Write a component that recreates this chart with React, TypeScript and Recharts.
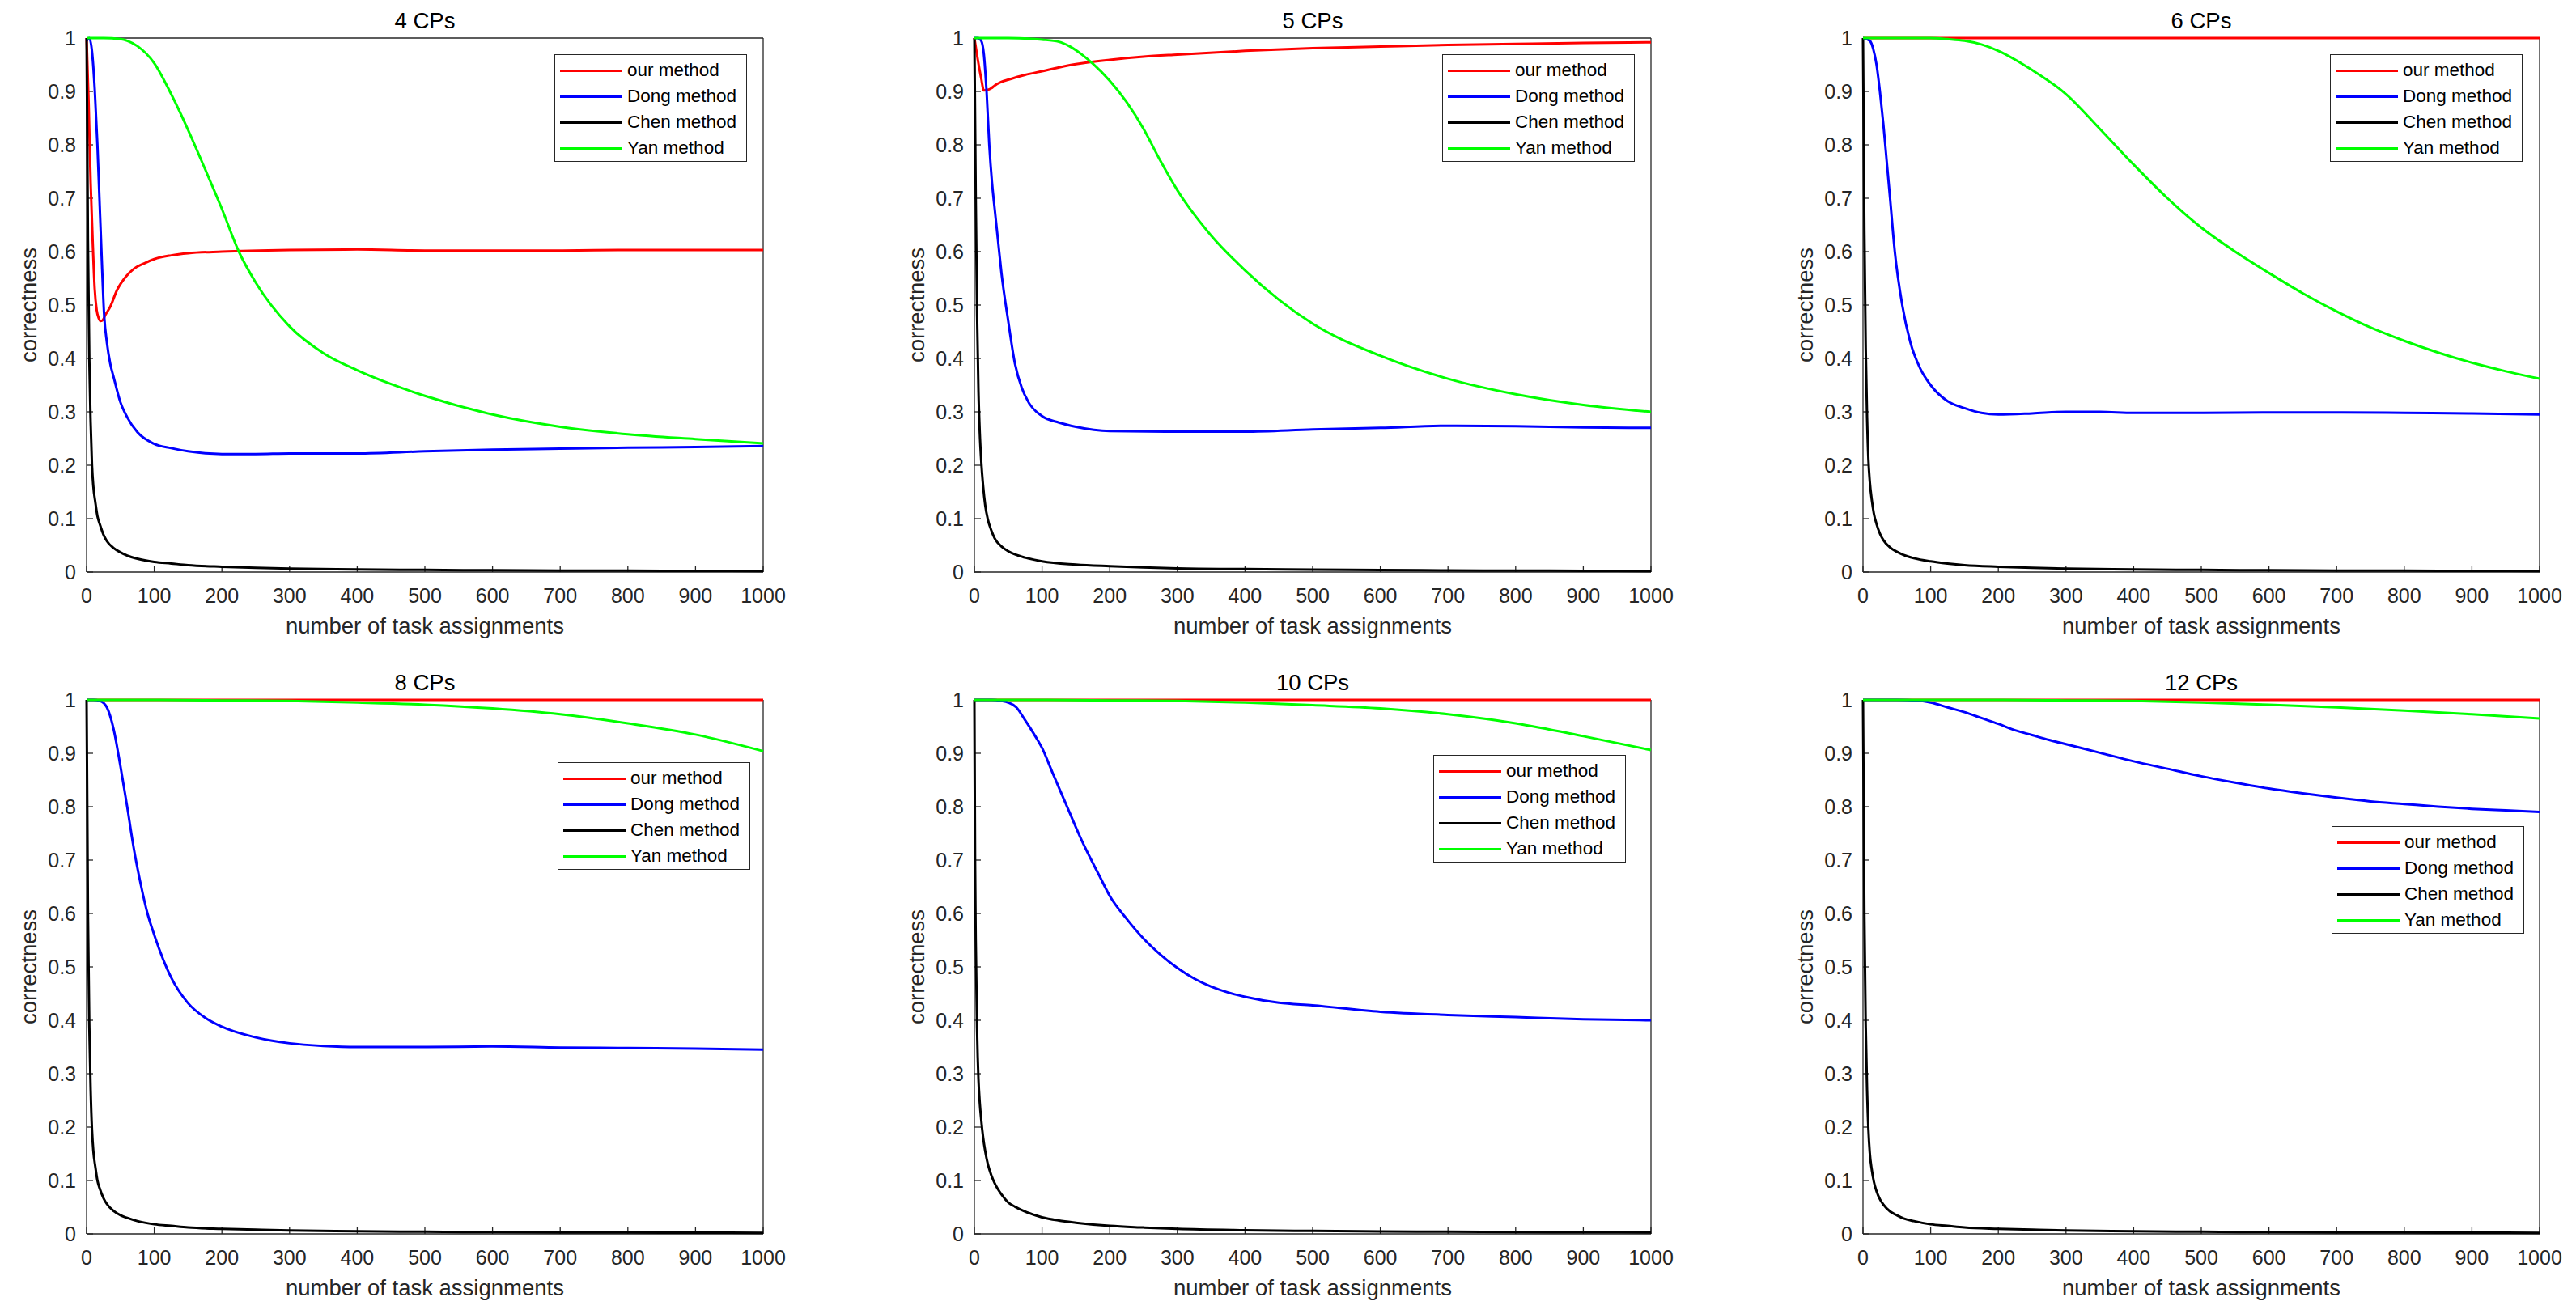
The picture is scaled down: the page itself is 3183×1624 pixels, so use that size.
import React from 'react';
import { LineChart, Line, XAxis, YAxis, Legend } from 'recharts';

type Pt = [number, number];

// axis ticks, names and colours shared by all six panels
const xTicks = [0, 100, 200, 300, 400, 500, 600, 700, 800, 900, 1000];
const yTicks = [0, 0.1, 0.2, 0.3, 0.4, 0.5, 0.6, 0.7, 0.8, 0.9, 1];
const seriesNames = ['our method', 'Dong method', 'Chen method', 'Yan method'];
const seriesColors = ['#ff0000', '#0000ff', '#000000', '#00ff00'];
const panelTitles = ['4 CPs', '5 CPs', '6 CPs', '8 CPs', '10 CPs', '12 CPs'];

// 4 CPs
const cp4Ours: Pt[] = [[0, 1], [3, 0.88], [6, 0.73], [9, 0.62], [12, 0.53], [15, 0.49], [18, 0.475], [21, 0.47], [24, 0.472], [28, 0.482], [35, 0.497], [45, 0.528], [58, 0.553], [70, 0.568], [85, 0.578], [100, 0.586], [125, 0.593], [150, 0.597], [200, 0.6], [300, 0.603], [400, 0.604], [500, 0.602], [600, 0.602], [700, 0.602], [800, 0.603], [900, 0.603], [1000, 0.603]];
const cp4Dong: Pt[] = [[0, 0.995], [4, 1], [8, 0.975], [12, 0.905], [16, 0.8], [19, 0.7], [22, 0.6], [26, 0.48], [30, 0.43], [35, 0.39], [40, 0.365], [50, 0.318], [60, 0.29], [75, 0.262], [100, 0.24], [125, 0.232], [150, 0.226], [200, 0.221], [250, 0.221], [300, 0.222], [400, 0.222], [500, 0.226], [600, 0.229], [700, 0.231], [800, 0.233], [900, 0.234], [1000, 0.236]];
const cp4Chen: Pt[] = [[0, 1], [2, 0.62], [4, 0.4], [6, 0.28], [8, 0.2], [10, 0.16], [13, 0.13], [16, 0.105], [20, 0.088], [25, 0.07], [30, 0.058], [40, 0.045], [50, 0.037], [60, 0.031], [75, 0.025], [100, 0.019], [125, 0.016], [150, 0.013], [200, 0.01], [250, 0.008], [300, 0.0065], [400, 0.005], [500, 0.004], [600, 0.0033], [700, 0.0028], [800, 0.0025], [900, 0.0022], [1000, 0.002]];
const cp4Yan: Pt[] = [[0, 1], [25, 1], [50, 0.998], [60, 0.995], [75, 0.985], [100, 0.953], [125, 0.895], [150, 0.828], [175, 0.755], [200, 0.68], [225, 0.6], [250, 0.542], [300, 0.46], [350, 0.41], [400, 0.378], [450, 0.352], [500, 0.33], [600, 0.295], [700, 0.272], [800, 0.258], [900, 0.249], [1000, 0.241]];

// 5 CPs
const cp5Ours: Pt[] = [[0, 1], [5, 0.96], [10, 0.925], [14, 0.902], [20, 0.903], [25, 0.906], [30, 0.911], [40, 0.918], [50, 0.922], [75, 0.931], [100, 0.938], [150, 0.951], [200, 0.959], [250, 0.965], [300, 0.969], [400, 0.976], [500, 0.981], [600, 0.984], [700, 0.987], [800, 0.989], [900, 0.991], [1000, 0.992]];
const cp5Dong: Pt[] = [[0, 1], [5, 1], [10, 0.995], [14, 0.97], [18, 0.9], [22, 0.8], [26, 0.73], [30, 0.68], [35, 0.62], [40, 0.56], [50, 0.47], [60, 0.39], [70, 0.345], [80, 0.318], [100, 0.292], [125, 0.28], [150, 0.272], [200, 0.264], [300, 0.263], [400, 0.263], [500, 0.267], [600, 0.27], [700, 0.274], [800, 0.273], [900, 0.271], [1000, 0.27]];
const cp5Chen: Pt[] = [[0, 1], [2, 0.7], [4, 0.48], [6, 0.34], [8, 0.26], [10, 0.21], [13, 0.16], [16, 0.125], [20, 0.098], [25, 0.078], [30, 0.063], [40, 0.048], [50, 0.039], [60, 0.033], [75, 0.027], [100, 0.02], [150, 0.014], [200, 0.011], [300, 0.007], [400, 0.0055], [500, 0.0045], [600, 0.0037], [700, 0.003], [800, 0.0027], [900, 0.0024], [1000, 0.002]];
const cp5Yan: Pt[] = [[0, 1], [50, 1], [100, 0.997], [125, 0.993], [140, 0.985], [160, 0.968], [175, 0.952], [200, 0.92], [225, 0.88], [250, 0.83], [275, 0.77], [300, 0.715], [350, 0.63], [400, 0.565], [450, 0.51], [500, 0.465], [600, 0.405], [700, 0.362], [800, 0.333], [900, 0.313], [1000, 0.3]];

// 6 CPs
const cp6Ours: Pt[] = [[0, 1], [500, 1], [1000, 1]];
const cp6Dong: Pt[] = [[0, 1], [10, 0.995], [15, 0.98], [20, 0.95], [25, 0.9], [30, 0.84], [35, 0.77], [40, 0.7], [47, 0.6], [58, 0.5], [70, 0.43], [85, 0.38], [100, 0.35], [125, 0.32], [150, 0.307], [175, 0.298], [200, 0.295], [250, 0.297], [300, 0.3], [350, 0.3], [400, 0.298], [500, 0.298], [600, 0.299], [700, 0.299], [800, 0.298], [900, 0.297], [1000, 0.295]];
const cp6Chen: Pt[] = [[0, 1], [2, 0.64], [4, 0.42], [6, 0.29], [8, 0.21], [10, 0.17], [13, 0.135], [16, 0.11], [20, 0.09], [25, 0.072], [30, 0.06], [40, 0.046], [50, 0.038], [60, 0.032], [75, 0.026], [100, 0.02], [125, 0.016], [150, 0.013], [200, 0.01], [250, 0.008], [300, 0.0065], [400, 0.005], [500, 0.004], [600, 0.0033], [700, 0.0028], [800, 0.0025], [900, 0.0022], [1000, 0.002]];
const cp6Yan: Pt[] = [[0, 1], [100, 1], [125, 0.998], [150, 0.995], [175, 0.988], [200, 0.976], [250, 0.94], [300, 0.895], [350, 0.83], [400, 0.763], [450, 0.7], [500, 0.645], [550, 0.6], [600, 0.56], [650, 0.522], [700, 0.488], [750, 0.458], [800, 0.433], [850, 0.411], [900, 0.392], [950, 0.376], [1000, 0.362]];

// 8 CPs
const cp8Ours: Pt[] = [[0, 1], [500, 1], [1000, 1]];
const cp8Dong: Pt[] = [[0, 1], [10, 1], [20, 0.998], [30, 0.986], [40, 0.945], [50, 0.876], [60, 0.8], [70, 0.72], [80, 0.655], [90, 0.6], [100, 0.56], [125, 0.48], [150, 0.432], [175, 0.405], [200, 0.388], [250, 0.368], [300, 0.357], [350, 0.352], [400, 0.35], [500, 0.35], [600, 0.351], [700, 0.349], [800, 0.348], [900, 0.347], [1000, 0.345]];
const cp8Chen: Pt[] = [[0, 1], [2, 0.6], [4, 0.39], [6, 0.27], [8, 0.195], [10, 0.155], [13, 0.125], [16, 0.1], [20, 0.083], [25, 0.067], [30, 0.056], [40, 0.043], [50, 0.035], [60, 0.03], [75, 0.024], [100, 0.018], [125, 0.015], [150, 0.012], [200, 0.0095], [250, 0.0078], [300, 0.0064], [400, 0.005], [500, 0.004], [600, 0.0033], [700, 0.0028], [800, 0.0025], [900, 0.0022], [1000, 0.002]];
const cp8Yan: Pt[] = [[0, 1], [100, 1], [200, 0.999], [300, 0.998], [400, 0.995], [500, 0.991], [600, 0.984], [700, 0.973], [800, 0.956], [900, 0.935], [1000, 0.904]];

// 10 CPs
const cp10Ours: Pt[] = [[0, 1], [500, 1], [1000, 1]];
const cp10Dong: Pt[] = [[0, 1], [25, 1], [40, 0.998], [50, 0.995], [62, 0.986], [75, 0.962], [90, 0.932], [100, 0.91], [115, 0.865], [135, 0.806], [160, 0.733], [185, 0.67], [200, 0.633], [225, 0.59], [250, 0.553], [275, 0.523], [300, 0.498], [325, 0.478], [350, 0.463], [375, 0.452], [400, 0.444], [450, 0.433], [500, 0.428], [600, 0.416], [700, 0.41], [800, 0.406], [900, 0.402], [1000, 0.4]];
const cp10Chen: Pt[] = [[0, 1], [1, 0.7], [2, 0.55], [4, 0.38], [6, 0.29], [8, 0.245], [10, 0.215], [13, 0.18], [16, 0.155], [20, 0.13], [25, 0.11], [30, 0.095], [40, 0.074], [50, 0.059], [60, 0.051], [75, 0.042], [100, 0.031], [125, 0.025], [150, 0.021], [200, 0.015], [250, 0.012], [300, 0.0095], [400, 0.007], [500, 0.0055], [600, 0.0045], [700, 0.004], [800, 0.0035], [900, 0.003], [1000, 0.0028]];
const cp10Yan: Pt[] = [[0, 1], [100, 1], [200, 0.999], [300, 0.998], [400, 0.995], [500, 0.99], [600, 0.984], [700, 0.973], [800, 0.956], [900, 0.932], [1000, 0.906]];

// 12 CPs
const cp12Ours: Pt[] = [[0, 1], [500, 1], [1000, 1]];
const cp12Dong: Pt[] = [[0, 1], [50, 1], [80, 0.999], [100, 0.995], [125, 0.986], [150, 0.977], [175, 0.966], [200, 0.955], [225, 0.943], [250, 0.934], [275, 0.925], [300, 0.917], [350, 0.901], [400, 0.885], [450, 0.871], [500, 0.857], [550, 0.845], [600, 0.834], [650, 0.825], [700, 0.817], [750, 0.81], [800, 0.805], [850, 0.8], [900, 0.796], [950, 0.793], [1000, 0.79]];
const cp12Chen: Pt[] = [[0, 1], [2, 0.6], [4, 0.39], [6, 0.27], [8, 0.195], [10, 0.152], [13, 0.12], [16, 0.098], [20, 0.08], [25, 0.065], [30, 0.055], [40, 0.042], [50, 0.035], [60, 0.029], [75, 0.024], [100, 0.018], [125, 0.015], [150, 0.012], [200, 0.0095], [250, 0.0078], [300, 0.0064], [400, 0.005], [500, 0.004], [600, 0.0033], [700, 0.0028], [800, 0.0025], [900, 0.0022], [1000, 0.002]];
const cp12Yan: Pt[] = [[0, 1], [100, 1], [200, 1], [300, 0.999], [400, 0.998], [500, 0.995], [600, 0.991], [700, 0.986], [800, 0.98], [900, 0.973], [1000, 0.965]];

const panelSeries: Pt[][][] = [
  [cp4Ours, cp4Dong, cp4Chen, cp4Yan],
  [cp5Ours, cp5Dong, cp5Chen, cp5Yan],
  [cp6Ours, cp6Dong, cp6Chen, cp6Yan],
  [cp8Ours, cp8Dong, cp8Chen, cp8Yan],
  [cp10Ours, cp10Dong, cp10Chen, cp10Yan],
  [cp12Ours, cp12Dong, cp12Chen, cp12Yan],
];

// layout: where each panel sits on the page and where its legend box goes
const panelLeft = [0, 1097, 2195, 0, 1097, 2195];
const panelTop = [0, 0, 0, 818, 818, 818];
const legendPos = [[685, 67], [685, 67], [684, 67], [689, 124], [674, 115], [686, 203]];

const CHART_W = 983;
const CHART_H = 806;
const AXIS = '#262626';
const FONT = '"Liberation Sans", Arial, Helvetica, sans-serif';

const toPoints = (pts: Pt[]) => pts.map(([x, y]) => ({ x, y }));

const LegendBox = () => (
  <div
    style={{
      boxSizing: 'border-box',
      width: 238,
      height: 133,
      border: `1.3px solid ${AXIS}`,
      background: '#fff',
      paddingTop: 3,
      fontFamily: FONT,
    }}
  >
    {seriesNames.map((name, i) => (
      <div key={name} style={{ height: 32, display: 'flex', alignItems: 'center' }}>
        <span style={{ display: 'block', marginLeft: 6, width: 77, height: 3, background: seriesColors[i] }} />
        <span style={{ marginLeft: 6, fontSize: 22.5, color: '#000', lineHeight: '32px', whiteSpace: 'nowrap' }}>{name}</span>
      </div>
    ))}
  </div>
);

const Panel: React.FC<{ index: number }> = ({ index }) => {
  const [lx, ly] = legendPos[index];
  return (
    <div style={{ position: 'absolute', left: panelLeft[index], top: panelTop[index] }}>
      <LineChart width={CHART_W} height={CHART_H} margin={{ top: 46, right: 39, bottom: 0, left: 0 }}>
        <XAxis
          type="number"
          dataKey="x"
          domain={[0, 1000]}
          ticks={xTicks}
          interval={0}
          height={99}
          tickSize={-8}
          tickMargin={28}
          stroke={AXIS}
          strokeWidth={1.3}
          tick={{ fill: AXIS, fontSize: 25 }}
          label={{ value: 'number of task assignments', position: 'insideBottom', offset: 23, fill: AXIS, fontSize: 27.5 }}
        />
        <XAxis
          xAxisId="top"
          orientation="top"
          type="number"
          dataKey="x"
          domain={[0, 1000]}
          allowDataOverflow
          ticks={xTicks}
          interval={0}
          height={1}
          tickSize={-8}
          tick={false}
          stroke={AXIS}
          strokeWidth={1.3}
          label={{ value: panelTitles[index], position: 'top', offset: 11, fill: '#000', fontSize: 27.5 }}
        />
        <YAxis
          type="number"
          domain={[0, 1]}
          ticks={yTicks}
          interval={0}
          width={107}
          tickSize={-8}
          tickMargin={21}
          stroke={AXIS}
          strokeWidth={1.3}
          tick={{ fill: AXIS, fontSize: 25 }}
          label={{
            value: 'correctness',
            angle: -90,
            position: 'insideLeft',
            offset: 35,
            fill: AXIS,
            fontSize: 27.5,
            style: { textAnchor: 'middle' },
          }}
        />
        <YAxis
          yAxisId="right"
          orientation="right"
          type="number"
          domain={[0, 1]}
          allowDataOverflow
          ticks={yTicks}
          interval={0}
          width={1}
          tickSize={-8}
          tick={false}
          stroke={AXIS}
          strokeWidth={1.3}
        />
        <Legend
          layout="vertical"
          align="center"
          verticalAlign="middle"
          wrapperStyle={{ left: lx, top: ly, width: 238, height: 133 }}
          content={() => <LegendBox />}
        />
        {panelSeries[index].map((pts, i) => (
          <Line
            key={seriesNames[i]}
            data={toPoints(pts)}
            dataKey="y"
            name={seriesNames[i]}
            type="monotone"
            stroke={seriesColors[i]}
            strokeWidth={3}
            dot={false}
            activeDot={false}
            zIndex={600}
            isAnimationActive={false}
          />
        ))}
      </LineChart>
    </div>
  );
};

export default function App() {
  return (
    <div
      style={{
        position: 'fixed',
        left: 0,
        top: 0,
        width: 3183,
        height: 1624,
        background: '#fff',
        overflow: 'hidden',
        fontFamily: FONT,
      }}
    >
      {panelTitles.map((t, i) => (
        <Panel key={t} index={i} />
      ))}
    </div>
  );
}
